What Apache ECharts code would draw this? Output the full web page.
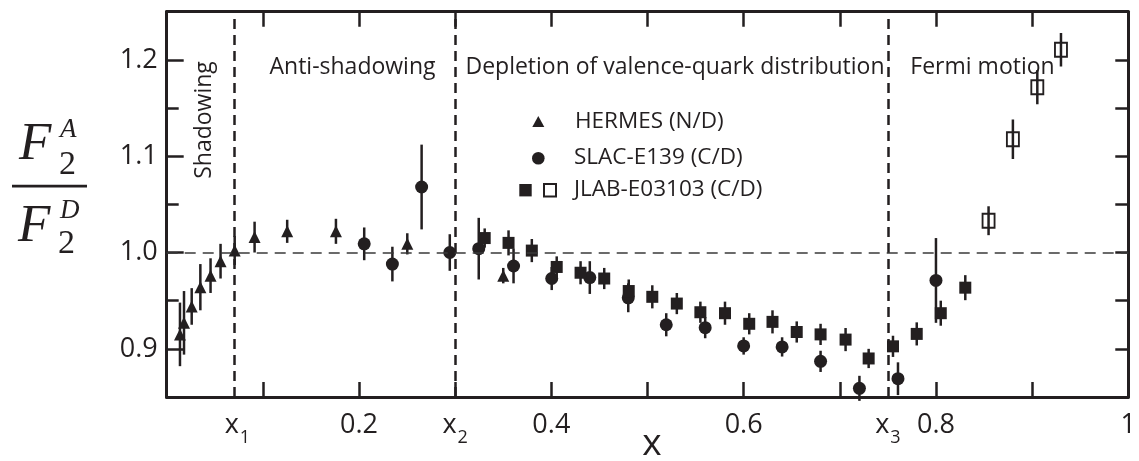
<!DOCTYPE html>
<html><head><meta charset="utf-8">
<script src="https://cdn.jsdelivr.net/npm/echarts@6/dist/echarts.min.js"></script>
<style>html,body{margin:0;padding:0;background:#fff}#c{width:1139px;height:461px}</style>
</head><body><div id="c"></div>
<script>
const INK = '#231f20';
const FONT = '"Open Sans", "Noto Sans", sans-serif';
const SERIF = '"Liberation Serif", "DejaVu Serif", serif';

// HERMES (N/D)
const hermesX   = [0.0138, 0.018, 0.026, 0.035, 0.0456, 0.056, 0.0707, 0.0914, 0.1253, 0.176, 0.2502, 0.350];
const hermesY   = [0.915, 0.927, 0.944, 0.964, 0.976, 0.991, 1.002, 1.016, 1.022, 1.022, 1.009, 0.976];
const hermesErr = [0.033, 0.033, 0.019, 0.024, 0.018, 0.018, 0.015, 0.016, 0.012, 0.013, 0.011, 0.008];

// SLAC-E139 (C/D)
const slacX   = [0.2054, 0.2347, 0.2651, 0.2944, 0.3245, 0.3607, 0.4004, 0.440, 0.480, 0.5195, 0.560, 0.600, 0.640, 0.680, 0.7204, 0.7605, 0.800];
const slacY   = [1.009, 0.988, 1.068, 1.000, 1.004, 0.986, 0.973, 0.974, 0.953, 0.925, 0.922, 0.903, 0.902, 0.887, 0.859, 0.869, 0.971];
const slacErr = [0.017, 0.018, 0.044, 0.019, 0.032, 0.018, 0.012, 0.017, 0.015, 0.012, 0.011, 0.009, 0.010, 0.011, 0.013, 0.017, 0.044];

// JLAB-E03103 (C/D), filled squares
const jlabX   = [0.3307, 0.3555, 0.3797, 0.4056, 0.4304, 0.455, 0.4805, 0.505, 0.5305, 0.555, 0.5806, 0.6058, 0.630, 0.6552, 0.680, 0.706, 0.730, 0.7553, 0.780, 0.805, 0.8305];
const jlabY   = [1.015, 1.010, 1.002, 0.985, 0.979, 0.973, 0.960, 0.954, 0.947, 0.938, 0.937, 0.926, 0.928, 0.9175, 0.915, 0.9096, 0.890, 0.9026, 0.9155, 0.937, 0.9635];
const jlabErr = [0.010, 0.013, 0.012, 0.011, 0.012, 0.011, 0.012, 0.012, 0.011, 0.011, 0.012, 0.011, 0.012, 0.011, 0.011, 0.012, 0.010, 0.011, 0.012, 0.013, 0.013];

// JLAB-E03103 (C/D), open squares
const jlabOpenX   = [0.8547, 0.880, 0.9054, 0.930];
const jlabOpenY   = [1.033, 1.1176, 1.1716, 1.2105];
const jlabOpenErr = [0.015, 0.0205, 0.0177, 0.0174];

// region boundaries and reference line
const boundaryX = [0.0735, 0.3, 0.75];
const unityY = 1.0;

// axis labels
const xLabelValues = [0.0735, 0.2, 0.3, 0.4, 0.6, 0.75, 0.8, 1.0];
const xLabelMain   = ['x', '0.2', 'x', '0.4', '0.6', 'x', '0.8', '1'];
const xLabelSub    = ['1', '', '2', '', '', '3', '', ''];
const yLabelValues = [0.9, 1.0, 1.1, 1.2];

const regionNames = ['Shadowing', 'Anti-shadowing', 'Depletion of valence-quark distribution', 'Fermi motion'];
const legendNames = ['HERMES (N/D)', 'SLAC-E139 (C/D)', 'JLAB-E03103 (C/D)'];

const pairs = (xs, ys) => xs.map((x, i) => [x, ys[i]]);
const triples = (xs, ys, es) => xs.map((x, i) => [x, ys[i], es[i]]);

function errorBars(name, xs, ys, es) {
  return {
    type: 'custom', name: name + ' err', z: 2,
    data: triples(xs, ys, es),
    encode: { x: 0, y: 1 },
    renderItem: (params, api) => {
      const x = api.value(0), y = api.value(1), e = api.value(2);
      const a = api.coord([x, y + e]), b = api.coord([x, y - e]);
      return { type: 'line', shape: { x1: a[0], y1: a[1], x2: b[0], y2: b[1] },
               style: { stroke: INK, lineWidth: 2.5 } };
    }
  };
}

function labelFor(v) {
  for (let i = 0; i < xLabelValues.length; i++) {
    if (Math.abs(xLabelValues[i] - v) < 1e-6) {
      return '{v|' + xLabelMain[i] + '}' + (xLabelSub[i] ? '{s|' + xLabelSub[i] + '}' : '');
    }
  }
  return '';
}

const chart = echarts.init(document.getElementById('c'), null, { renderer: 'canvas' });

const vLine = { color: INK, width: 2.5, type: [10, 6] };
const hLine = { color: '#3a3a3a', width: 1.5, type: [11, 7] };
const tickStyle = { color: INK, width: 2.5 };
const hiddenSplit = { show: true, lineStyle: { color: 'rgba(0,0,0,0)' } };
const hiddenLabel = { show: true, inside: true, fontSize: 8, color: 'rgba(0,0,0,0)' };

const option = {
  animation: false,
  backgroundColor: '#fff',
  grid: { left: 166.7, right: 6.7, top: 11.7, bottom: 64 },
  xAxis: [
    {
      type: 'value', min: 0, max: 1, interval: 0.1, position: 'bottom',
      axisLine: { show: true, onZero: false, lineStyle: { color: INK, width: 3 } },
      axisTick: { show: true, inside: true, length: 15, lineStyle: tickStyle },
      splitLine: hiddenSplit,
      axisLabel: {
        customValues: xLabelValues,
        formatter: labelFor,
        margin: 15,
        color: INK,
        rich: {
          v: { fontSize: 27, fontFamily: FONT, color: INK, lineHeight: 30, verticalAlign: 'top' },
          s: { fontSize: 18, fontFamily: FONT, color: INK, lineHeight: 18, verticalAlign: 'top', padding: [17, 0, 0, 1] }
        }
      }
    },
    {
      type: 'value', min: 0, max: 1, interval: 0.1, position: 'top',
      axisLine: { show: true, onZero: false, lineStyle: { color: INK, width: 3 } },
      axisTick: { show: true, inside: true, length: 15, lineStyle: tickStyle },
      axisLabel: hiddenLabel, splitLine: hiddenSplit
    }
  ],
  yAxis: [
    {
      type: 'value', min: 0.85, max: 1.25, interval: 0.05, position: 'left',
      axisLine: { show: true, onZero: false, lineStyle: { color: INK, width: 3 } },
      axisTick: { show: true, inside: true, length: 17, customValues: yLabelValues, lineStyle: tickStyle },
      axisLabel: { customValues: yLabelValues, formatter: v => v.toFixed(1), fontSize: 27, fontFamily: FONT, color: INK, margin: 9 },
      splitLine: hiddenSplit
    },
    {
      type: 'value', min: 0.85, max: 1.25, interval: 0.05, position: 'left',
      axisLine: { show: true, onZero: false, lineStyle: { color: INK, width: 3 } },
      axisTick: { show: true, inside: true, length: 12, lineStyle: tickStyle },
      axisLabel: hiddenLabel, splitLine: hiddenSplit
    },
    {
      type: 'value', min: 0.85, max: 1.25, interval: 0.05, position: 'right',
      axisLine: { show: true, onZero: false, lineStyle: { color: INK, width: 3 } },
      axisTick: { show: true, inside: true, length: 13, lineStyle: tickStyle },
      axisLabel: hiddenLabel, splitLine: hiddenSplit
    }
  ],
  series: [
    {
      type: 'scatter', name: legendNames[2] + ' open', z: 1,
      symbol: 'rect', symbolSize: [12, 14],
      itemStyle: { color: '#fff', borderColor: INK, borderWidth: 2, opacity: 1 },
      data: pairs(jlabOpenX, jlabOpenY)
    },
    errorBars('hermes', hermesX, hermesY, hermesErr),
    errorBars('slac', slacX, slacY, slacErr),
    errorBars('jlab', jlabX, jlabY, jlabErr),
    errorBars('jlabOpen', jlabOpenX, jlabOpenY, jlabOpenErr),
    {
      type: 'scatter', name: legendNames[0], z: 3,
      symbol: 'triangle', symbolSize: [12, 12],
      itemStyle: { color: INK, opacity: 1 },
      data: pairs(hermesX, hermesY),
      markLine: {
        silent: true, symbol: ['none', 'none'], label: { show: false },
        data: boundaryX.map(v => ({ xAxis: v, lineStyle: vLine })).concat([{ yAxis: unityY, lineStyle: hLine }])
      }
    },
    {
      type: 'scatter', name: legendNames[1], z: 3,
      symbol: 'circle', symbolSize: 13,
      itemStyle: { color: INK, opacity: 1 },
      data: pairs(slacX, slacY)
    },
    {
      type: 'scatter', name: legendNames[2], z: 3,
      symbol: 'rect', symbolSize: [12, 12],
      itemStyle: { color: INK, opacity: 1 },
      data: pairs(jlabX, jlabY)
    }
  ],
  graphic: [
    // y-axis title: F2^A / F2^D
    { type: 'text', x: 19, y: 145, style: { text: 'F', font: 'italic 53px ' + SERIF, fill: INK, verticalAlign: 'middle' } },
    { type: 'text', x: 60, y: 130, style: { text: 'A', font: 'italic 27px ' + SERIF, fill: INK, verticalAlign: 'middle' } },
    { type: 'text', x: 59, y: 165, style: { text: '2', font: '34px ' + SERIF, fill: INK, verticalAlign: 'middle' } },
    { type: 'rect', shape: { x: 12, y: 184.7, width: 75, height: 2.7 }, style: { fill: INK } },
    { type: 'text', x: 18, y: 227.5, style: { text: 'F', font: 'italic 53px ' + SERIF, fill: INK, verticalAlign: 'middle' } },
    { type: 'text', x: 60, y: 210.5, style: { text: 'D', font: 'italic 27px ' + SERIF, fill: INK, verticalAlign: 'middle' } },
    { type: 'text', x: 58, y: 244.5, style: { text: '2', font: '34px ' + SERIF, fill: INK, verticalAlign: 'middle' } },
    // x-axis title
    { type: 'text', x: 652, y: 444, style: { text: 'x', font: '37px ' + FONT, fill: INK, align: 'center', verticalAlign: 'middle' } },
    // region names
    { type: 'text', x: 204, y: 120, rotation: Math.PI / 2, style: { text: regionNames[0], font: '23px ' + FONT, fill: INK, align: 'center', verticalAlign: 'middle' } },
    { type: 'text', x: 352.5, y: 67, style: { text: regionNames[1], font: '23px ' + FONT, fill: INK, align: 'center', verticalAlign: 'middle' } },
    { type: 'text', x: 675, y: 67, style: { text: regionNames[2], font: '23px ' + FONT, fill: INK, align: 'center', verticalAlign: 'middle' } },
    { type: 'text', x: 982.5, y: 67, style: { text: regionNames[3], font: '23px ' + FONT, fill: INK, align: 'center', verticalAlign: 'middle' } },
    // legend
    { type: 'polygon', shape: { points: [[532.3, 127], [544.3, 127], [538.3, 116]] }, style: { fill: INK } },
    { type: 'circle', shape: { cx: 538.3, cy: 158.3, r: 6.3 }, style: { fill: INK } },
    { type: 'rect', shape: { x: 519.3, y: 184, width: 12.4, height: 12.4 }, style: { fill: INK } },
    { type: 'rect', shape: { x: 544, y: 184, width: 12, height: 12.4 }, style: { fill: '#fff', stroke: INK, lineWidth: 2 } },
    { type: 'text', x: 575, y: 121.5, style: { text: legendNames[0], font: '22.5px ' + FONT, fill: INK, verticalAlign: 'middle' } },
    { type: 'text', x: 574, y: 158, style: { text: legendNames[1], font: '22.5px ' + FONT, fill: INK, verticalAlign: 'middle' } },
    { type: 'text', x: 574, y: 190, style: { text: legendNames[2], font: '22.5px ' + FONT, fill: INK, verticalAlign: 'middle' } }
  ]
};
chart.setOption(option);
</script>
</body></html>
